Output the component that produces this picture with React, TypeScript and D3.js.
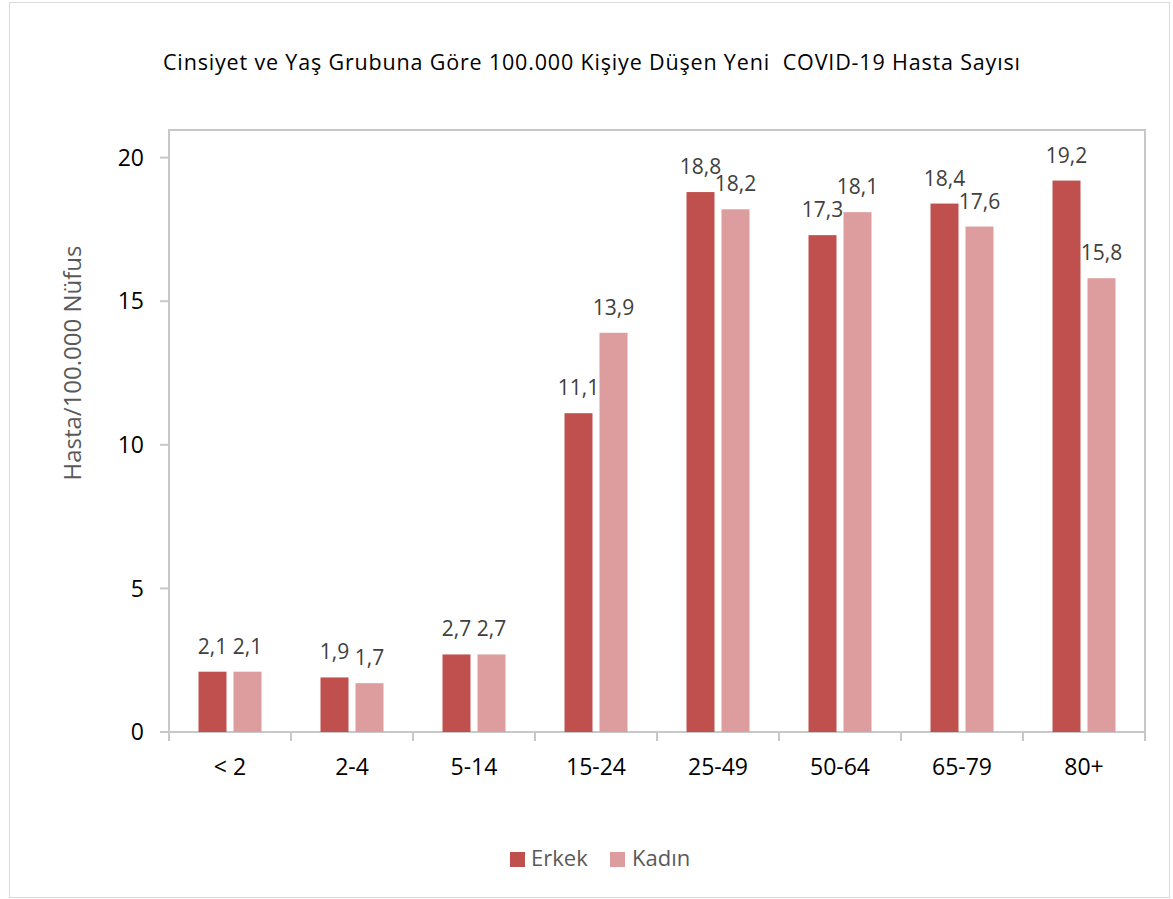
import React from "react";
import * as d3 from "d3";

const categories = ["< 2", "2-4", "5-14", "15-24", "25-49", "50-64", "65-79", "80+"];
const erkek = [2.1, 1.9, 2.7, 11.1, 18.8, 17.3, 18.4, 19.2];
const kadin = [2.1, 1.7, 2.7, 13.9, 18.2, 18.1, 17.6, 15.8];
const yTicks = [0, 5, 10, 15, 20];
const seriesNames = ["Erkek", "Kadın"];
const colors = ["#C0504D", "#DD9C9D"];

const W = 1173, H = 899;
const font = "'Open Sans', sans-serif";

export default function App() {
  const left = 169, right = 1145, top = 130, bottom = 732;
  const x = d3.scaleBand().domain(categories).range([left, right]).paddingInner(0).paddingOuter(0);
  const y = d3.scaleLinear().domain([0, 20]).range([bottom, bottom - 20 * 28.72]);
  const series = [erkek, kadin];
  const bw = 28, gap = 7;
  const fmt = (v: number) => v.toFixed(1).replace(".", ",");
  return (
    <svg width={W} height={H} style={{ position: "absolute", left: 0, top: 0, display: "block" }}>
      <rect x={0} y={0} width={W} height={H} fill="#fff" />
      <rect x={9.5} y={2.5} width={1160} height={895} fill="#fff" stroke="#D9D9D9" strokeWidth={1} />
      <text x={163} y={70} textLength={857} lengthAdjust="spacing" fontFamily={font} fontSize={21.5} fill="#000" style={{ whiteSpace: "pre" }}>
        Cinsiyet ve Yaş Grubuna Göre 100.000 Kişiye Düşen Yeni  COVID-19 Hasta Sayısı
      </text>
      {/* plot border */}
      <rect x={left} y={top} width={right - left} height={bottom - top} fill="none" stroke="#C8C8C8" strokeWidth={2} />
      {/* y ticks */}
      {yTicks.map((t) => (
        <g key={t}>
          <line x1={160} x2={left} y1={y(t)} y2={y(t)} stroke="#C8C8C8" strokeWidth={2} />
          <text x={144} y={y(t)} dy="0.36em" textAnchor="end" fontFamily={font} fontSize={23} fill="#000">{t}</text>
        </g>
      ))}
      {/* x axis */}
      <line x1={left} x2={right} y1={bottom} y2={bottom} stroke="#C8C8C8" strokeWidth={2} />
      {categories.map((c, i) => (
        <line key={"t" + i} x1={x(c)!} x2={x(c)!} y1={bottom} y2={bottom + 9} stroke="#C8C8C8" strokeWidth={2} />
      ))}
      <line x1={right} x2={right} y1={bottom} y2={bottom + 9} stroke="#C8C8C8" strokeWidth={2} />
      {categories.map((c) => (
        <text key={"c" + c} x={x(c)! + x.bandwidth() / 2} y={775} textAnchor="middle" fontFamily={font} fontSize={23} fill="#000">{c}</text>
      ))}
      {/* bars */}
      {series.map((vals, s) =>
        vals.map((v, i) => {
          const cx = x(categories[i])! + x.bandwidth() / 2;
          const bx = s === 0 ? cx - gap / 2 - bw : cx + gap / 2;
          return (
            <g key={s + "-" + i}>
              <rect x={bx} y={y(v)} width={bw} height={bottom - y(v)} fill={colors[s]} />
              <text x={bx + bw / 2} y={y(v) - 18} textAnchor="middle" fontFamily={font} fontSize={21} fill="#404040">{fmt(v)}</text>
            </g>
          );
        })
      )}
      <text transform={`translate(81,363) rotate(-90)`} textAnchor="middle" fontFamily={font} fontSize={24} fill="#595959">Hasta/100.000 Nüfus</text>
      {/* legend */}
      {seriesNames.map((n, i) => (
        <g key={n}>
          <rect x={510 + i * 100} y={852} width={15} height={15} fill={colors[i]} />
          <text x={531 + i * 101} y={866} fontFamily={font} fontSize={22} fill="#595959">{n}</text>
        </g>
      ))}
    </svg>
  );
}
